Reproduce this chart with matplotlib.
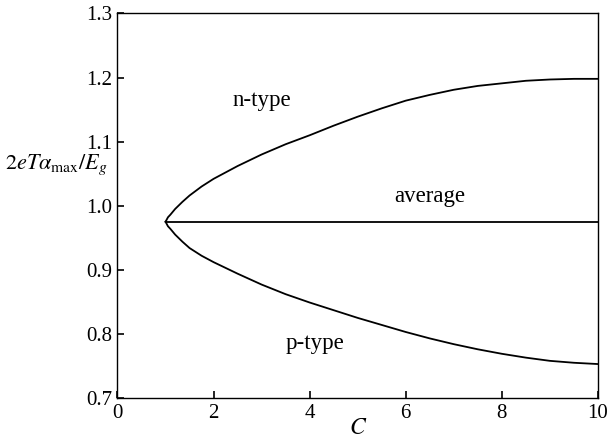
import matplotlib
matplotlib.use("Agg")
import matplotlib.pyplot as plt

plt.rcParams['font.family'] = ['Liberation Serif', 'DejaVu Serif']
plt.rcParams['mathtext.fontset'] = 'stix'

# Maximum thermopower (normalised) versus C
C_n = [1.0, 1.05, 1.1, 1.2, 1.35, 1.5, 1.75, 2.0, 2.5, 3.0, 3.5, 4.0, 4.5, 5.0, 5.5, 6.0, 6.5, 7.0, 7.5, 8.0, 8.5, 9.0, 9.5, 10.0]
n_type = [0.975, 0.982, 0.986, 0.995, 1.006, 1.016, 1.030, 1.042, 1.062, 1.080, 1.096, 1.110, 1.125, 1.139, 1.152, 1.164, 1.173, 1.181, 1.187, 1.191, 1.195, 1.197, 1.198, 1.198]
C_p = C_n
p_type = [0.975, 0.968, 0.964, 0.955, 0.944, 0.934, 0.922, 0.912, 0.894, 0.877, 0.862, 0.849, 0.837, 0.825, 0.814, 0.803, 0.793, 0.784, 0.776, 0.769, 0.763, 0.758, 0.755, 0.753]
C_avg = [1.0, 10.0]
average = [0.975, 0.975]

x_ticks = [0, 2, 4, 6, 8, 10]
y_ticks = [0.7, 0.8, 0.9, 1.0, 1.1, 1.2, 1.3]

fig = plt.figure(figsize=(6.11, 4.42), dpi=100)
ax = fig.add_axes([0.1923, 0.0995, 0.7864, 0.8700])

ax.plot(C_n, n_type, color='black', lw=1.3)
ax.plot(C_p, p_type, color='black', lw=1.3)
ax.plot(C_avg, average, color='black', lw=1.3)

ax.set_xlim(0, 10)
ax.set_ylim(0.7, 1.3)
ax.set_xticks(x_ticks)
ax.set_yticks(y_ticks)
ax.set_xticklabels([str(t) for t in x_ticks])
ax.set_yticklabels([f"{t:.1f}" for t in y_ticks])
ax.tick_params(direction='in', length=5, width=1.2, labelsize=15, pad=4,
               top=False, right=False, colors='black')
for s in ax.spines.values():
    s.set_linewidth(1.0)

ax.text(3.0, 1.165, 'n-type', fontsize=16.5, ha='center', va='center')
ax.text(6.5, 1.014, 'average', fontsize=16.5, ha='center', va='center')
ax.text(4.1, 0.785, 'p-type', fontsize=16.5, ha='center', va='center')

ax.set_xlabel(r'$C$', fontsize=17, labelpad=-3)
fig.text(0.008, 1 - 169 / 442, r'$2eT\alpha_{\rm max}/E_g$', fontsize=16,
         ha='left', va='baseline')

fig.savefig('out.png', dpi=100)
